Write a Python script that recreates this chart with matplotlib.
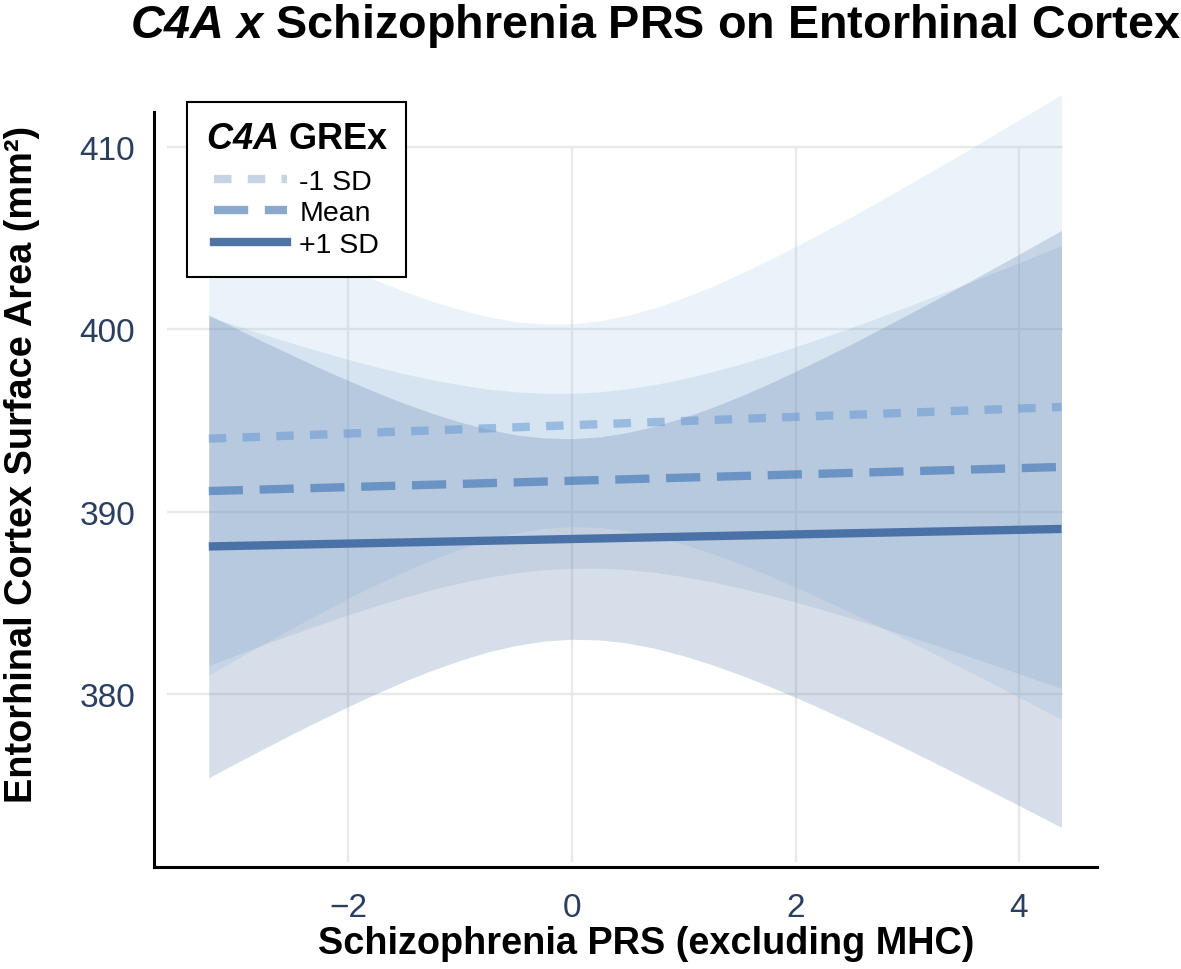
import matplotlib
matplotlib.use('Agg')
import matplotlib.pyplot as plt
from matplotlib.lines import Line2D

plt.rcParams['font.family'] = ['Liberation Sans', 'DejaVu Sans']
plt.rcParams['mathtext.fontset'] = 'custom'
plt.rcParams['mathtext.rm'] = 'Liberation Sans'
plt.rcParams['mathtext.it'] = 'Liberation Sans:italic'
plt.rcParams['mathtext.bf'] = 'Liberation Sans:bold'
plt.rcParams['mathtext.bfit'] = 'Liberation Sans:italic:bold'

# ---- data ----
groups = ['-1 SD', 'Mean', '+1 SD']

# fitted lines (straight), values at the two ends of the PRS range
line_prs = [-3.25, 4.38]
fit_minus = [394.00, 395.74]
fit_mean = [391.13, 392.45]
fit_plus = [388.09, 389.05]

# confidence bands
prs = [-3.25, -3.0, -2.75, -2.5, -2.25, -2.0, -1.75, -1.5, -1.25, -1.0, -0.75,
       -0.5, -0.25, 0.0, 0.25, 0.5, 0.75, 1.0, 1.25, 1.5, 1.75, 2.0, 2.25,
       2.5, 2.75, 3.0, 3.25, 3.5, 3.75, 4.0, 4.25, 4.38]
minus_hi = [406.97, 406.20, 405.45, 404.72, 404.01, 403.33, 402.69, 402.08,
            401.54, 401.07, 400.69, 400.42, 400.29, 400.30, 400.46, 400.77,
            401.19, 401.73, 402.34, 403.03, 403.76, 404.54, 405.34, 406.17,
            407.03, 407.90, 408.78, 409.67, 410.58, 411.49, 412.40, 412.88]
minus_lo = [381.03, 381.91, 382.77, 383.62, 384.44, 385.24, 386.00, 386.71,
            387.37, 387.96, 388.45, 388.83, 389.08, 389.18, 389.13, 388.94,
            388.63, 388.21, 387.71, 387.14, 386.52, 385.86, 385.16, 384.45,
            383.71, 382.95, 382.18, 381.40, 380.62, 379.82, 379.02, 378.60]
mean_hi = [400.70, 400.20, 399.71, 399.23, 398.78, 398.34, 397.94, 397.56,
           397.23, 396.95, 396.72, 396.57, 396.49, 396.49, 396.57, 396.74,
           396.98, 397.29, 397.66, 398.08, 398.54, 399.04, 399.56, 400.10,
           400.66, 401.24, 401.83, 402.43, 403.04, 403.65, 404.28, 404.60]
mean_lo = [381.55, 382.14, 382.72, 383.28, 383.82, 384.34, 384.84, 385.30,
           385.72, 386.09, 386.40, 386.64, 386.81, 386.89, 386.90, 386.82,
           386.66, 386.43, 386.15, 385.82, 385.44, 385.04, 384.60, 384.15,
           383.67, 383.18, 382.68, 382.17, 381.64, 381.11, 380.58, 380.30]
plus_hi = [400.79, 400.04, 399.29, 398.57, 397.86, 397.19, 396.54, 395.94,
           395.39, 394.91, 394.51, 394.21, 394.04, 394.00, 394.10, 394.34,
           394.70, 395.16, 395.70, 396.31, 396.98, 397.69, 398.43, 399.19,
           399.98, 400.79, 401.60, 402.43, 403.27, 404.12, 404.98, 405.42]
plus_lo = [375.40, 376.22, 377.02, 377.81, 378.57, 379.31, 380.02, 380.69,
           381.30, 381.84, 382.31, 382.66, 382.90, 383.00, 382.96, 382.79,
           382.49, 382.09, 381.61, 381.06, 380.46, 379.81, 379.14, 378.43,
           377.71, 376.97, 376.21, 375.44, 374.66, 373.88, 373.09, 372.67]

x_ticks = [-2, 0, 2, 4]
y_ticks = [380, 390, 400, 410]

# ---- styling ----
band_colors = [(0.59, 0.75, 0.90), (0.39, 0.55, 0.75), (0.34, 0.47, 0.64)]
band_alphas = [0.2, 0.14, 0.24]
line_colors = [(0.37, 0.58, 0.82), (0.24, 0.45, 0.70), '#4a72a6']
line_alphas = [0.5, 0.62, 1.0]
legend_colors = ['#c5d4e5', '#89a8cb', '#4e73a6']
dash_styles = [(0, (2.1, 1.95)), (0, (4.1, 2.0)), '-']
tick_color = '#2a3f5f'

fig = plt.figure(figsize=(11.81, 9.70), dpi=100)
ax = fig.add_axes([0.1304, 0.1052, 0.7985, 0.7783])

ax.set_xlim(-3.74, 4.698)
ax.set_ylim(370.51, 411.92)

# grid limited to the panel area
ax.hlines(y_ticks, -3.624, 4.394, color='#e9e9e9', lw=1.7, zorder=0)
ax.vlines(x_ticks, 370.78, 410, color='#e9e9e9', lw=1.7, zorder=0)

bands = [(minus_lo, minus_hi), (mean_lo, mean_hi), (plus_lo, plus_hi)]
for (lo, hi), c, a in zip(bands, band_colors, band_alphas):
    ax.fill_between(prs, lo, hi, color=c, alpha=a, lw=0, zorder=1,
                    clip_on=False)

fits = [fit_minus, fit_mean, fit_plus]
for fit, c, a, ls in zip(fits, line_colors, line_alphas, dash_styles):
    ax.plot(line_prs, fit, color=c, alpha=a, lw=6, linestyle=ls,
            solid_capstyle='butt', dash_capstyle='butt', zorder=3)

ax.set_xticks(x_ticks)
ax.set_yticks(y_ticks)
ax.tick_params(axis='both', length=0, labelsize=24, labelcolor=tick_color)
ax.tick_params(axis='x', pad=18)
ax.tick_params(axis='y', pad=13.5)

for s in ['top', 'right']:
    ax.spines[s].set_visible(False)
for s in ['left', 'bottom']:
    ax.spines[s].set_linewidth(2.2)
    ax.spines[s].set_color('black')

handles = [Line2D([], [], color=c, lw=6, linestyle=ls, dash_capstyle='butt')
           for c, ls in zip(legend_colors, dash_styles)]
leg = ax.legend(handles, groups, title=r'$\mathbfit{C4A}$ GREx',
                loc='upper left', bbox_to_anchor=(0.035, 1.0132),
                borderaxespad=0, fancybox=False, edgecolor='black',
                framealpha=1, prop={'size': 20.5},
                title_fontproperties={'size': 26, 'weight': 'bold'},
                handlelength=2.55, handletextpad=0.45, borderpad=0.65,
                labelspacing=0.2)
leg._legend_box.sep = 9.5  # extra room under the legend title
leg.get_frame().set_linewidth(1.5)
leg.set_zorder(10)

fig.text(130 / 1181, 1 - 38 / 970,
         r'$\mathbfit{C4A\ x}$ Schizophrenia PRS on Entorhinal Cortex',
         fontsize=33.7, fontweight='bold', ha='left', va='baseline')
fig.text(646 / 1181, 1 - 954 / 970, 'Schizophrenia PRS (excluding MHC)',
         fontsize=27.3, fontweight='bold', ha='center', va='baseline')
fig.text(22 / 1181, 1 - 464 / 970, 'Entorhinal Cortex Surface Area (mm²)',
         fontsize=27.3, fontweight='bold', ha='center', va='center',
         rotation=90)

fig.savefig('out.png', dpi=100)
